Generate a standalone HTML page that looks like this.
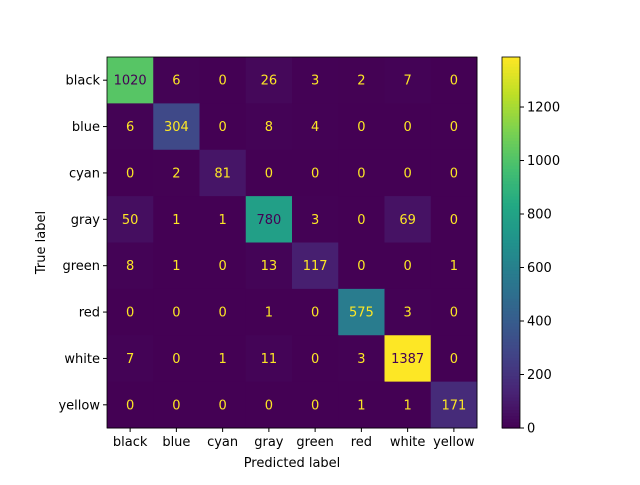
<!DOCTYPE html>
<html><head><meta charset="utf-8"><style>
body{margin:0;background:#fff;}
svg text{font-family:"DejaVu Sans","Liberation Sans",sans-serif;font-size:13px;}
</style></head><body>
<svg width="640" height="480" viewBox="0 0 640 480">
<g id="cells"></g>
<g id="axes"></g>
<g id="cbar"></g>
</svg>
<script>
const categories = ["black","blue","cyan","gray","green","red","white","yellow"];
const matrix = [
 [1020,6,0,26,3,2,7,0],
 [6,304,0,8,4,0,0,0],
 [0,2,81,0,0,0,0,0],
 [50,1,1,780,3,0,69,0],
 [8,1,0,13,117,0,0,1],
 [0,0,0,1,0,575,3,0],
 [7,0,1,11,0,3,1387,0],
 [0,0,0,0,0,1,1,171]
];
const cbarTicks = [0,200,400,600,800,1000,1200];
const NS="http://www.w3.org/2000/svg";
const stops=["#440154","#482475","#414487","#355f8d","#2a788e","#21918c","#22a884","#44bf70","#7ad151","#bddf26","#fde725"];
function hex(h){return [1,3,5].map(i=>parseInt(h.substr(i,2),16));}
function viridis(t){t=Math.max(0,Math.min(1,t));const p=t*10,i=Math.min(9,Math.floor(p)),f=p-i;const a=hex(stops[i]),b=hex(stops[i+1]);return "rgb("+a.map((v,k)=>Math.round(v+(b[k]-v)*f)).join(",")+")";}
function mk(tag,attrs,parent){const e=document.createElementNS(NS,tag);for(const k in attrs)e.setAttribute(k,attrs[k]);parent.appendChild(e);return e;}
const L=107,T=57,W=370,H=371,n=categories.length,cw=W/n,ch=H/n;
let vmax=0,vmin=Infinity;matrix.forEach(r=>r.forEach(v=>{vmax=Math.max(vmax,v);vmin=Math.min(vmin,v);}));
const xPos=j=>L+cw*(j+0.5), yPos=i=>T+ch*(i+0.5);
const cells=document.getElementById('cells'),axes=document.getElementById('axes'),cb=document.getElementById('cbar');
matrix.forEach((row,i)=>row.forEach((v,j)=>{
 const r=mk('rect',{x:L+cw*j,y:T+ch*i,width:cw+0.5,height:ch+0.5,fill:viridis((v-vmin)/(vmax-vmin))},cells);
 
 
 const t=mk('text',{x:xPos(j),y:yPos(i)+4.5,'text-anchor':'middle',fill:v>(vmax+vmin)/2?"#440154":"#fde725"},cells);
 t.textContent=v;
 
 
}));
mk('rect',{x:L,y:T,width:W,height:H,fill:'none',stroke:'#000','stroke-width':0.8},axes);
categories.forEach((c,k)=>{
 mk('line',{x1:xPos(k),x2:xPos(k),y1:T+H,y2:T+H+4,stroke:'#000'},axes);
 const tx=mk('text',{x:xPos(k),y:T+H+18,'text-anchor':'middle'},axes);tx.textContent=c;
 
 
 mk('line',{x1:L-4,x2:L,y1:yPos(k),y2:yPos(k),stroke:'#000'},axes);
 const ty=mk('text',{x:L-7,y:yPos(k)+4.5,'text-anchor':'end'},axes);ty.textContent=c;
 
 
});
const xl=mk('text',{x:L+W/2,y:467,'text-anchor':'middle'},axes);xl.textContent="Predicted label";


const yl=mk('text',{x:0,y:0,'text-anchor':'middle',transform:'translate(45,'+(T+H/2)+') rotate(-90)'},axes);yl.textContent="True label";


// colorbar
const CX=502,CW=18,steps=120;
for(let s=0;s<steps;s++){
 const seg=mk('rect',{x:CX,y:T+H-(s+1)*H/steps,width:CW,height:H/steps+0.6,fill:viridis((s+0.5)/steps)},cb);
 
 
}
mk('rect',{x:CX,y:T,width:CW,height:H,fill:'none',stroke:'#000','stroke-width':0.8},cb);
const cy=v=>T+H-(v-vmin)/(vmax-vmin)*H;
cbarTicks.forEach(v=>{
 mk('line',{x1:CX+CW,x2:CX+CW+4,y1:cy(v),y2:cy(v),stroke:'#000'},cb);
 const t=mk('text',{x:CX+CW+7,y:cy(v)+4.5},cb);t.textContent=v;
 
 
});
</script>
</body></html>
